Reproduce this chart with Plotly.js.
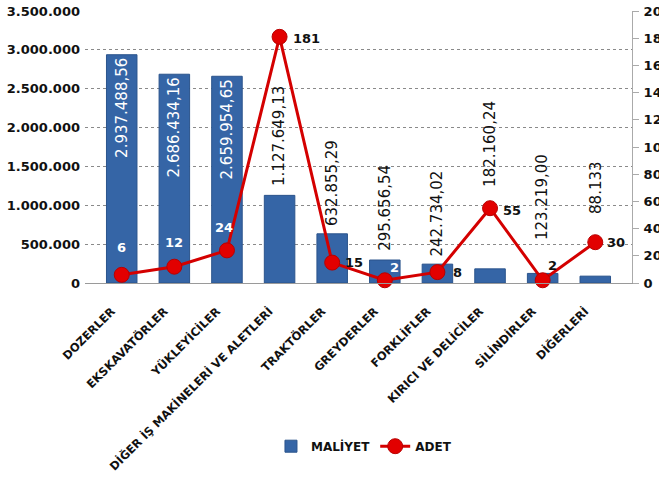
<!DOCTYPE html>
<html>
<head>
<meta charset="utf-8">
<script src="https://cdn.plot.ly/plotly-3.0.1.min.js"></script>
<style>html,body{margin:0;padding:0;background:#fff;}#chart{width:659px;height:491px;}</style>
</head>
<body>
<div id="chart"></div>
<script>
var categories = ['DOZERLER','EKSKAVATÖRLER','YÜKLEYİCİLER','DİĞER İŞ MAKİNELERİ VE ALETLERİ','TRAKTÖRLER','GREYDERLER','FORKLİFLER','KIRICI VE DELİCİLER','SİLİNDİRLER','DİĞERLERİ'];
var maliyet = [2937488.56, 2686434.16, 2659954.65, 1127649.13, 632855.29, 295656.54, 242734.02, 182160.24, 123219.00, 88133];
var maliyetDecimals = [2,2,2,2,2,2,2,2,2,0];
var adet = [6, 12, 24, 181, 15, 2, 8, 55, 2, 30];
var leftTicks = [0, 500000, 1000000, 1500000, 2000000, 2500000, 3000000, 3500000];
var rightTicks = [0, 20, 40, 60, 80, 100, 120, 140, 160, 180, 200];

// label placement (style only, pixel offsets)
var barLabelInside = [true, true, true, false, false, false, false, false, false, false];
var barLabelShift = [0, 0, 0, 7, 6, 7, 6, 80, 31, 60];
var lineLabelDx = [0, 0, -3, 27, 22, 10, 20, 22, 10, 21];
var lineLabelDy = [27, 24, 23, -2, 0, 13, 0, -2, 15, 0];
var lineLabelColor = ['#ffffff','#ffffff','#ffffff','#111','#111','#ffffff','#111','#111','#111','#111'];

function fmtTR(v, d) {
  var s = v.toFixed(d);
  var parts = s.split('.');
  var intPart = parts[0].replace(/\B(?=(\d{3})+(?!\d))/g, '.');
  return d > 0 ? intPart + ',' + parts[1] : intPart;
}
var barText = maliyet.map(function(v, i){ return fmtTR(v, maliyetDecimals[i]); });

var font = '"DejaVu Sans", "Liberation Sans", sans-serif';

var traces = [
  {
    type: 'bar', name: 'MALİYET', x: categories, y: maliyet,
    marker: {color: '#3565a6', line: {color: '#2b548c', width: 1}},
    text: barText.map(function(t, i){ return barLabelInside[i] ? t : ''; }),
    textposition: 'inside', textangle: -90,
    insidetextanchor: 'end', constraintext: 'none',
    insidetextfont: {color: '#ffffff', size: 15, family: font},
    hoverinfo: 'x+y'
  },
  {
    type: 'scatter', mode: 'lines+markers', name: 'ADET', x: categories, y: adet, yaxis: 'y2',
    line: {color: '#d40000', width: 3},
    marker: {color: '#e20000', size: 15, line: {color: '#b80000', width: 1}},
    cliponaxis: false
  }
];

var annotations = [];
categories.forEach(function(c, i){
  if (!barLabelInside[i]) {
    annotations.push({
      x: c, y: maliyet[i], xref: 'x', yref: 'y', text: barText[i],
      textangle: -90, showarrow: false, xanchor: 'center', yanchor: 'bottom',
      yshift: barLabelShift[i], font: {family: font, size: 15, color: '#111'}
    });
  }
  annotations.push({
    x: c, y: adet[i], xref: 'x', yref: 'y2', text: String(adet[i]),
    showarrow: false, xanchor: 'center', yanchor: 'middle',
    xshift: lineLabelDx[i], yshift: lineLabelDy[i],
    font: {family: font, size: 13, color: lineLabelColor[i], weight: 'bold'}
  });
});

var layout = {
  width: 659, height: 491,
  margin: {l: 85, r: 27, t: 11, b: 208},
  paper_bgcolor: '#ffffff', plot_bgcolor: '#ffffff',
  separators: ',.',
  bargap: 0.42,
  showlegend: true,
  annotations: annotations,
  legend: {orientation: 'h', x: 0.51, xanchor: 'center', y: -0.6, yanchor: 'middle',
           font: {family: font, size: 12, color: '#111', weight: 'bold'}, itemwidth: 30},
  xaxis: {
    tickangle: -45, tickfont: {family: font, size: 11.5, color: '#111', weight: 'bold'},
    showline: true, linecolor: '#9a9a9a', linewidth: 1, ticks: '', showgrid: false,
    ticklabelstandoff: 16, ticklabelshift: -10, automargin: false
  },
  yaxis: {
    range: [0, 3500000], tickvals: leftTicks, ticktext: leftTicks.map(function(v){return fmtTR(v,0);}),
    showgrid: true, gridcolor: '#8a8a8a', griddash: 'dot', gridwidth: 1,
    zeroline: false, showline: false,
    tickfont: {family: font, size: 13, color: '#111', weight: 'bold'},
    ticklabelstandoff: 4, automargin: false
  },
  yaxis2: {
    overlaying: 'y', side: 'right', range: [0, 200], tickvals: rightTicks, ticktext: rightTicks.map(String),
    showgrid: false, zeroline: false, showline: true, linecolor: '#aaa', linewidth: 1,
    ticks: 'outside', ticklen: 6, tickcolor: '#aaa',
    tickfont: {family: font, size: 13, color: '#111', weight: 'bold'},
    ticklabelstandoff: 2, automargin: false
  }
};

Plotly.newPlot('chart', traces, layout, {displayModeBar: false, staticPlot: true});
</script>
</body>
</html>
